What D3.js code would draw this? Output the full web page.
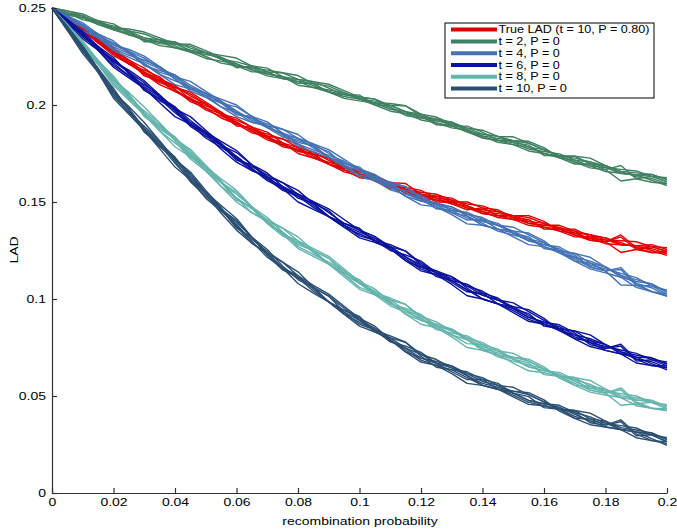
<!DOCTYPE html>
<html><head><meta charset="utf-8">
<script src="https://cdn.jsdelivr.net/npm/d3@7"></script>
<style>
html,body{margin:0;padding:0;background:#fff;}
svg{display:block;font-family:"Liberation Sans",Arial,Helvetica,sans-serif;}
</style></head><body>
<svg id="c" width="677" height="530"></svg>
<script>
// ---- data ----
const recombination = [0,0.005,0.01,0.015,0.02,0.025,0.03,0.035,0.04,0.045,0.05,0.055,0.06,0.065,0.07,0.075,0.08,0.085,0.09,0.095,0.1,0.105,0.11,0.115,0.12,0.125,0.13,0.135,0.14,0.145,0.15,0.155,0.16,0.165,0.17,0.175,0.18,0.185,0.19,0.195,0.2];

const seriesNames = ["True LAD (t = 10, P = 0.80)","t = 2, P = 0","t = 4, P = 0","t = 6, P = 0","t = 8, P = 0","t = 10, P = 0"];

const ladTrue = [.2500,.2442,.2385,.2330,.2275,.2222,.2170,.2125,.2080,.2037,.1995,.1953,.1912,.1876,.1840,.1805,.1770,.1737,.1705,.1675,.1645,.1617,.1590,.1565,.1540,.1520,.1500,.1480,.1460,.1440,.1420,.1400,.1380,.1360,.1340,.1322,.1305,.1290,.1275,.1260,.1245];
const ladT2 = [.2500,.2475,.2449,.2424,.2398,.2372,.2346,.2326,.2305,.2283,.2260,.2236,.2212,.2191,.2170,.2146,.2122,.2100,.2077,.2054,.2031,.2010,.1988,.1966,.1943,.1918,.1892,.1871,.1850,.1828,.1806,.1783,.1760,.1738,.1716,.1696,.1677,.1658,.1640,.1622,.1605];
const ladT4 = [.2500,.2450,.2403,.2356,.2310,.2266,.2222,.2178,.2135,.2092,.2050,.2010,.1970,.1931,.1893,.1855,.1818,.1779,.1740,.1700,.1660,.1621,.1583,.1549,.1515,.1485,.1455,.1427,.1400,.1370,.1340,.1310,.1280,.1248,.1215,.1185,.1155,.1122,.1090,.1058,.1025];
const ladT6 = [.2500,.2430,.2360,.2292,.2225,.2160,.2095,.2032,.1970,.1910,.1850,.1792,.1735,.1682,.1630,.1580,.1530,.1482,.1435,.1390,.1345,.1302,.1260,.1217,.1175,.1135,.1095,.1057,.1020,.0985,.0950,.0915,.0880,.0847,.0815,.0785,.0755,.0727,.0700,.0677,.0655];
const ladT8 = [.2500,.2405,.2310,.2220,.2130,.2045,.1960,.1887,.1815,.1742,.1670,.1600,.1530,.1465,.1400,.1345,.1290,.1240,.1190,.1135,.1080,.1032,.0985,.0942,.0900,.0862,.0825,.0790,.0755,.0722,.0690,.0660,.0630,.0602,.0575,.0550,.0525,.0502,.0480,.0457,.0435];
const ladT10 = [.2500,.2395,.2285,.2178,.2065,.1972,.1880,.1795,.1710,.1625,.1540,.1462,.1385,.1308,.1235,.1170,.1110,.1050,.0995,.0942,.0890,.0840,.0790,.0747,.0705,.0668,.0635,.0605,.0575,.0545,.0515,.0487,.0460,.0432,.0405,.0382,.0360,.0337,.0315,.0290,.0265];

// replicate deviations from the mean curve, in thousandths of LAD
const replicateDev = [
 [0, 0,1,0,1,1,0,1,2,1,1, 0,-1,0,1,2,1,0,-1,-1,0, 1,1,0,-1,0,1,1,2,1,0, -1,0,1,0,-1,0,1,2,1,2],
 [0, -1,0,-1,-1,0,-1,-2,-1,0,-1, -2,-1,0,-1,0,-2,-1,0,1,0, -1,-2,-1,0,-1,-1,0,-1,-2,-1, 0,1,0,-1,-2,-1,-5,-2,-2,-1],
 [0, 0,0,1,0,-1,0,0,1,2,1, 0,1,1,0,-1,0,1,2,1,0, 0,-1,0,1,2,1,0,-1,0,1, 2,1,0,1,1,0,-1,0,1,0],
 [0, 1,1,0,0,1,2,1,0,-1,0, 1,0,-1,-1,0,1,2,1,0,1, 2,1,0,0,1,0,-1,0,1,1, 0,-1,-1,0,1,1,0,-1,0,-1],
 [0, 0,-1,0,-1,-1,-1,0,-1,-1,-2, -1,0,-1,-2,-1,0,-1,-1,-2,-1, 0,0,-1,-2,-1,0,-1,-2,-1,-1, -2,-1,0,-1,-1,-2,-1,0,-1,-2],
 [0, 1,2,1,0,2,3,2,1,0,1, 2,3,1,0,-1,1,2,3,2,1, 0,2,3,1,0,2,1,0,1,3, 2,1,0,2,3,1,0,1,2,1],
 [0, -1,-2,-1,-3,-2,-1,-2,-3,-1,0, -2,-3,-2,0,-1,-3,-2,-1,-2,-3, -1,0,-2,-3,-1,-2,-4,-2,-1,-2, -3,-1,0,-2,-3,-2,-1,-3,-2,-1],
 [0, 0,1,-1,0,1,-2,0,2,-1,1, 0,-2,1,2,0,-1,1,-1,0,2, -1,1,3,0,-2,0,2,1,-1,0, 1,-2,0,2,0,-1,3,-2,1,0],
 [0, -1,0,1,2,0,-1,-1,1,3,2, 1,-1,-2,0,2,3,1,-1,0,1, 2,0,-2,-1,1,2,0,-2,-1,1, 3,2,-1,-2,0,1,-1,0,2,1],
 [0, 1,0,-1,-2,-1,1,2,0,-2,-1, 0,2,1,-1,-2,0,1,2,-1,-2, 0,-1,1,2,0,-1,-2,1,2,0, -1,0,2,1,-2,-1,4,-1,-2,0]
];
// which deviation rows each series uses
const replicateRows = [
 [0,1,2,3,4,7,8,9],
 [0,1,2,3,4,5,7,8],
 [5,6,7,8,9,1,0,3],
 [5,6,7,8,9,3,0,4],
 [0,5,6,7,8,2,9,1],
 [5,6,7,8,9,4,0,2]
];
const seriesMeans = [ladTrue, ladT2, ladT4, ladT6, ladT8, ladT10];
const seriesColors = ["#e00000","#3f8060","#4472b4","#0b139c","#64b4ac","#2b4f72"];

const xTicks = [0,0.02,0.04,0.06,0.08,0.1,0.12,0.14,0.16,0.18,0.2];
const xTickLabels = ["0","0.02","0.04","0.06","0.08","0.1","0.12","0.14","0.16","0.18","0.2"];
const yTicks = [0,0.05,0.1,0.15,0.2,0.25];
const yTickLabels = ["0","0.05","0.1","0.15","0.2","0.25"];

// ---- drawing ----
const svg = d3.select("#c");
const x = d3.scaleLinear().domain([0,0.2]).range([52,667]);
const y = d3.scaleLinear().domain([0,0.25]).range([493,8]);
const SQ = 0.84; // vertical squash of the original lettering

const line = d3.line().x(d=>x(d[0])).y(d=>y(d[1]));
const plot = svg.append("g");
seriesMeans.forEach((mean, si) => {
  replicateRows[si].forEach(r => {
    const dev = replicateDev[r];
    const pts = recombination.map((xv,i)=>[xv, mean[i] + (dev[i]||0)*0.001]);
    plot.append("path").attr("d", line(pts))
      .attr("fill","none").attr("stroke", seriesColors[si])
      .attr("stroke-width",1.4).attr("stroke-linejoin","round");
  });
});

const axColor = "#333";
const gx = svg.append("g").attr("transform","translate(0,493)")
  .call(d3.axisBottom(x).tickValues(xTicks).tickFormat((d,i)=>xTickLabels[i]).tickSizeInner(-5).tickSizeOuter(0).tickPadding(5));
const gy = svg.append("g").attr("transform","translate(52,0)")
  .call(d3.axisLeft(y).tickValues(yTicks).tickFormat((d,i)=>yTickLabels[i]).tickSizeInner(-5).tickSizeOuter(0).tickPadding(6));
[gx,gy].forEach(g=>{
  g.selectAll("path.domain").attr("stroke",axColor).attr("stroke-width",1.2);
  g.selectAll(".tick line").attr("stroke",axColor).attr("stroke-width",1.2);
  g.selectAll("text").attr("fill","#000").style("font-size","14px").style("font-family","'Liberation Sans',Arial,sans-serif")
    .each(function(){
      const t = d3.select(this);
      const tx = +t.attr("x")||0, ty = +t.attr("y")||0;
      t.attr("x",0).attr("y",0).attr("transform",`translate(${tx},${ty}) scale(1,${SQ})`);
    });
});

svg.append("text").attr("transform",`translate(360,525) scale(1,${SQ})`).attr("text-anchor","middle")
  .style("font-size","14px").text("recombination probability");
svg.append("text").attr("transform",`translate(18,250) rotate(-90) scale(1,${SQ})`).attr("text-anchor","middle")
  .style("font-size","14px").text("LAD");

// legend
const lg = svg.append("g");
lg.append("rect").attr("x",445).attr("y",23).attr("width",209).attr("height",75)
  .attr("fill","#fff").attr("stroke","#000").attr("stroke-width",1);
seriesNames.forEach((name,i)=>{
  const yy = 29.6 + i*11.8;
  lg.append("line").attr("x1",451).attr("x2",497).attr("y1",yy).attr("y2",yy)
    .attr("stroke",seriesColors[i]).attr("stroke-width",4);
  lg.append("text").attr("transform",`translate(498.5,${yy}) scale(1,0.8)`).attr("dy","0.35em")
    .style("font-size","12.6px").text(name);
});
</script>
</body></html>
